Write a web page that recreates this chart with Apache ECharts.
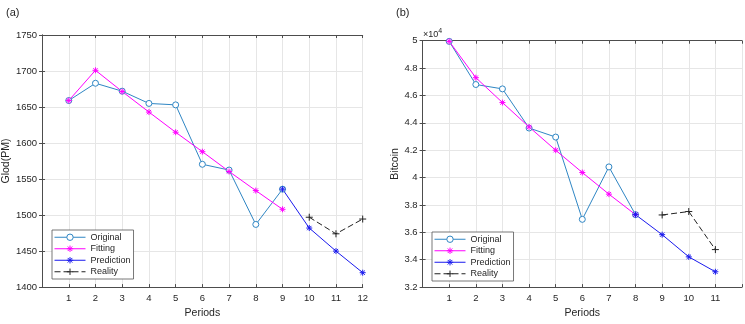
<!DOCTYPE html>
<html>
<head>
<meta charset="utf-8">
<script src="https://cdn.jsdelivr.net/npm/echarts@6/dist/echarts.min.js"></script>
<style>
  html, body { margin: 0; padding: 0; background: #fff; }
  #chart { width: 745px; height: 324px; }
</style>
</head>
<body>
<div id="chart"></div>
<script>
// (a) gold, periods 1..12
const goldOriginal = [1659, 1683, 1672, 1655, 1653, 1570.5, 1562.5, 1487, 1536]; // periods 1-9
const goldFitting = [1659, 1701, 1671.5, 1643, 1615, 1588, 1560.5, 1534, 1508]; // periods 1-9
const goldPrediction = [1536, 1482, 1450, 1420]; // periods 9-12
const goldReality = [1497, 1474, 1494.5]; // periods 10-12

// (b) bitcoin, periods 1..11
const btcOriginal = [49950, 46800, 46480, 43620, 42960, 36950, 40780, 37290]; // periods 1-8
const btcFitting = [49950, 47300, 45480, 43700, 42000, 40370, 38790, 37290]; // periods 1-8
const btcPrediction = [37290, 35830, 34210, 33120]; // periods 8-11
const btcReality = [37270, 37520, 34740]; // periods 9-11

const goldTicks = [1, 2, 3, 4, 5, 6, 7, 8, 9, 10, 11, 12];
const btcTicks = [1, 2, 3, 4, 5, 6, 7, 8, 9, 10, 11];

const FONT = '"Liberation Sans", Arial, Helvetica, sans-serif';
const TXT = '#262626';
const BOX = '#4d4d4d';
const GRIDLINE = '#e6e6e6';

const CIRCLE = 'path://M5,0A5,5 0 1 1 -5,0A5,5 0 1 1 5,0Z';
const STAR = 'path://M0,-5L0,5M-5,0L5,0M-3.6,-3.6L3.6,3.6M-3.6,3.6L3.6,-3.6';
const PLUS = 'path://M0,-5L0,5M-5,0L5,0';

// pair values with their period numbers
function pts (vals, startPeriod) {
  return vals.map((v, i) => [startPeriod + i, v]);
}

function xAxes (gridIndex, ticks) {
  return [
    {
      type: 'value', gridIndex: gridIndex, position: 'bottom',
      min: 0, max: 12, interval: 1,
      name: 'Periods', nameLocation: 'middle', nameGap: 20,
      nameTextStyle: { fontFamily: FONT, fontSize: 10.5, color: TXT },
      axisLine: { show: true, lineStyle: { color: BOX, width: 1 } },
      axisTick: { show: true, inside: true, length: 3, lineStyle: { color: BOX } },
      axisLabel: {
        margin: 6, fontFamily: FONT, fontSize: 9.5, color: TXT,
        formatter: v => (ticks.indexOf(v) >= 0 ? String(v) : '')
      },
      splitLine: { show: true, lineStyle: { color: GRIDLINE, width: 1 } }
    },
    {
      type: 'value', gridIndex: gridIndex, position: 'top',
      min: 0, max: 12, interval: 1,
      axisLine: { show: true, lineStyle: { color: BOX, width: 1 } },
      axisTick: { show: true, inside: true, length: 3, lineStyle: { color: BOX } },
      axisLabel: { show: false },
      splitLine: { show: false }
    }
  ];
}

function yAxes (gridIndex, name, nameGap, min, max, interval, fmt) {
  return [
    {
      type: 'value', gridIndex: gridIndex, position: 'left',
      min: min, max: max, interval: interval,
      name: name, nameLocation: 'middle', nameGap: nameGap,
      nameTextStyle: { fontFamily: FONT, fontSize: 10.5, color: TXT },
      axisLine: { show: true, lineStyle: { color: BOX, width: 1 } },
      axisTick: { show: true, inside: true, length: 3, lineStyle: { color: BOX } },
      axisLabel: { margin: 5, fontFamily: FONT, fontSize: 9.5, color: TXT, formatter: fmt },
      splitLine: { show: true, lineStyle: { color: GRIDLINE, width: 1 } }
    },
    {
      type: 'value', gridIndex: gridIndex, position: 'right',
      min: min, max: max, interval: interval,
      axisLine: { show: true, lineStyle: { color: BOX, width: 1 } },
      axisTick: { show: true, inside: true, length: 3, lineStyle: { color: BOX } },
      axisLabel: { show: false },
      splitLine: { show: false }
    }
  ];
}

function line (ax, name, data, color, symbol, size, fill, dash) {
  return {
    name: name, type: 'line', xAxisIndex: ax, yAxisIndex: ax,
    data: data,
    symbol: symbol, symbolSize: size,
    lineStyle: { color: color, width: 1, type: dash || 'solid' },
    itemStyle: { color: fill, borderColor: color, borderWidth: 1 },
    emphasis: { disabled: true }
  };
}

function series (ax, original, fitting, prediction, reality, predStart, realStart) {
  return [
    line(ax, 'Original', pts(original, 1), '#2f86c4', CIRCLE, 6, '#fff'),
    line(ax, 'Fitting', pts(fitting, 1), '#ff00ff', STAR, 6, '#ff00ff'),
    line(ax, 'Prediction', pts(prediction, predStart), '#1a1aee', STAR, 6, '#1a1aee'),
    line(ax, 'Reality', pts(reality, realStart), '#222222', PLUS, 7, '#222222', [6, 3])
  ];
}

function legend (left, top) {
  return {
    orient: 'vertical', left: left, top: top,
    data: ['Original', 'Fitting', 'Prediction', 'Reality'],
    itemWidth: 31, itemHeight: 8, itemGap: 1,
    padding: [2, 3, 2, 2],
    backgroundColor: '#fff', borderColor: '#555', borderWidth: 0.8, borderRadius: 0,
    itemStyle: { borderWidth: 1 },
    lineStyle: { width: 1 },
    textStyle: { fontFamily: FONT, fontSize: 9, color: TXT, lineHeight: 10.5 },
    selectedMode: false
  };
}

const chart = echarts.init(document.getElementById('chart'), null, { renderer: 'canvas' });

chart.setOption({
  animation: false,
  backgroundColor: '#fff',
  textStyle: { fontFamily: FONT },
  title: [
    { text: '(a)', left: 1, top: 2, textStyle: { fontFamily: FONT, fontSize: 11, fontWeight: 'normal', color: TXT } },
    { text: '(b)', left: 391, top: 2, textStyle: { fontFamily: FONT, fontSize: 11, fontWeight: 'normal', color: TXT } },
    {
      text: '{a|×10}{b|4}', left: 423, top: 28, padding: 0,
      textStyle: {
        fontWeight: 'normal',
        rich: {
          a: { fontFamily: FONT, fontSize: 9, fontWeight: 'normal', color: TXT },
          b: { fontFamily: FONT, fontSize: 7, fontWeight: 'normal', color: TXT, padding: [0, 0, 6, 0] }
        }
      }
    }
  ],
  grid: [
    { left: 42, top: 35, width: 320.7, height: 252.5 },
    { left: 422.6, top: 40.7, width: 320.4, height: 251.6 }
  ],
  xAxis: xAxes(0, goldTicks).concat(xAxes(1, btcTicks)),
  yAxis: yAxes(0, 'Glod(PM)', 29, 1400, 1750, 50, v => String(v))
    .concat(yAxes(1, 'Bitcoin', 21, 32000, 50000, 2000, v => String(v / 10000))),
  legend: [legend(52, 230), legend(432, 232)],
  series: series(0, goldOriginal, goldFitting, goldPrediction, goldReality, 9, 10)
    .concat(series(2, btcOriginal, btcFitting, btcPrediction, btcReality, 8, 9))
});
</script>
</body>
</html>
